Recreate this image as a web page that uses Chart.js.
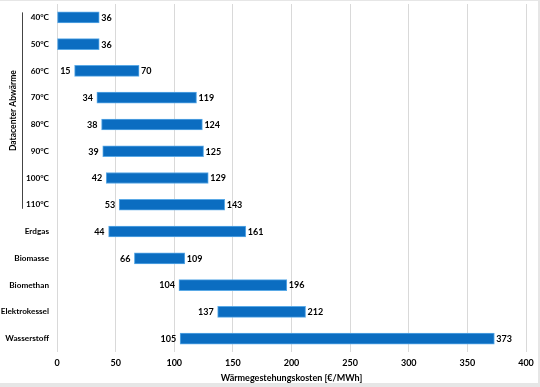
<!DOCTYPE html>
<html>
<head>
<meta charset="utf-8">
<script src="https://cdn.jsdelivr.net/npm/chart.js@4/dist/chart.umd.min.js"></script>
<style>
html,body{margin:0;padding:0;background:#fff;}
#wrap{width:540px;height:387px;position:relative;}
</style>
</head>
<body>
<div id="wrap"><canvas id="c" width="540" height="387"></canvas></div>
<script>
const categories = ["40°C","50°C","60°C","70°C","80°C","90°C","100°C","110°C","Erdgas","Biomasse","Biomethan","Elektrokessel","Wasserstoff"];
const minCost = [0,0,15,34,38,39,42,53,44,66,104,137,105];
const maxCost = [36,36,70,119,124,125,129,143,161,109,196,212,373];
const xTicks = [0,50,100,150,200,250,300,350,400];
const groupLabel = "Datacenter Abwärme";
const groupFirst = 0, groupLast = 7;
const axisTitle = "Wärmegestehungskosten [€/MWh]";

const FONT = "Lato, 'Open Sans', sans-serif";

const labelPlugin = {
  id: 'labels',
  afterDatasetsDraw(chart) {
    const ctx = chart.ctx;
    const meta = chart.getDatasetMeta(0);
    ctx.save();
    ctx.font = "bold 9px " + FONT;
    ctx.fillStyle = "#000";
    ctx.textBaseline = "middle";
    meta.data.forEach((el, i) => {
      const p = el.getProps(['x','y','base'], true);
      ctx.textAlign = "left";
      ctx.fillText(String(maxCost[i]), p.x + 2, p.y + 0.5);
      if (minCost[i] > 0) {
        ctx.textAlign = "right";
        ctx.fillText(String(minCost[i]), p.base - 4, p.y + 0.5);
      }
    });
    // group bracket
    const ys = chart.scales.y;
    const y1 = ys.getPixelForValue(groupFirst) - 5;
    const y2 = ys.getPixelForValue(groupLast) + 4;
    ctx.strokeStyle = "#444";
    ctx.lineWidth = 1;
    ctx.beginPath();
    ctx.moveTo(22.5, y1);
    ctx.lineTo(22.5, y2);
    ctx.stroke();
    ctx.font = "bold 8.5px " + FONT;
    ctx.translate(13, (y1 + y2) / 2);
    ctx.rotate(-Math.PI / 2);
    ctx.textAlign = "center";
    ctx.fillText(groupLabel, 0, 0);
    ctx.restore();
    // frame
    ctx.save();
    ctx.fillStyle = "#e6e6e6";
    ctx.fillRect(0, 0, 540, 1);
    ctx.fillRect(0, 383, 540, 4);
    ctx.fillRect(538, 0, 2, 387);
    ctx.restore();
  }
};

new Chart(document.getElementById('c'), {
  type: 'bar',
  data: {
    labels: categories,
    datasets: [{
      data: categories.map((c, i) => [minCost[i], maxCost[i]]),
      backgroundColor: '#0b6dc1',
      borderColor: '#5aa9e6',
      borderWidth: 1,
      borderSkipped: false,
      barThickness: 11
    }]
  },
  options: {
    indexAxis: 'y',
    responsive: false,
    animation: false,
    layout: { padding: { top: 4, right: 14, left: 0, bottom: 4 } },
    plugins: { legend: { display: false }, tooltip: { enabled: false } },
    scales: {
      x: {
        min: 0, max: 400,
        afterBuildTicks(s) { s.ticks = xTicks.map(v => ({ value: v })); },
        grid: { color: '#d9d9d9', drawTicks: false, lineWidth: 1 },
        border: { display: false },
        ticks: { font: { family: FONT, size: 9, weight: 'bold' }, color: '#000', padding: 6 },
        title: { display: true, text: axisTitle, font: { family: FONT, size: 9, weight: 'bold' }, color: '#000', padding: { top: 1, bottom: 0 } },
        afterFit(s) { s.height = 31; }
      },
      y: {
        grid: { display: false, drawTicks: false },
        border: { display: false },
        ticks: { font: { family: FONT, size: 8.2, weight: 'bold' }, color: '#000', padding: 8, autoSkip: false },
        afterFit(s) { s.width = 57; s.paddingTop = 0; s.paddingBottom = 0; }
      }
    }
  },
  plugins: [labelPlugin]
});
</script>
</body>
</html>
